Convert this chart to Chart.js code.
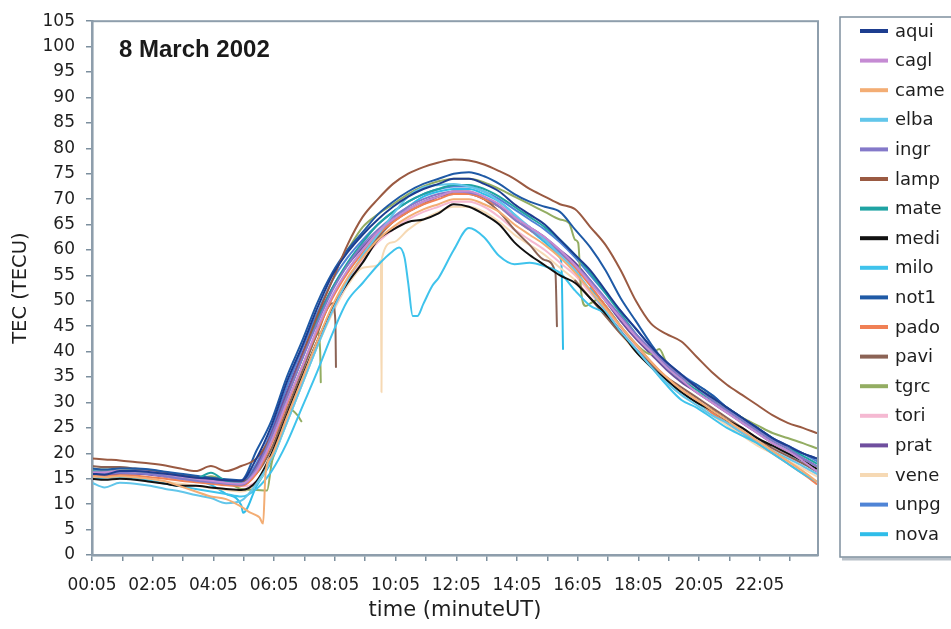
<!DOCTYPE html>
<html>
<head>
<meta charset="utf-8">
<script src="https://cdn.jsdelivr.net/npm/chart.js@4.4.1/dist/chart.umd.min.js"></script>
<style>
  html, body { margin: 0; padding: 0; background: #ffffff; }
  #wrap { width: 951px; height: 629px; }
</style>
</head>
<body>
<div id="wrap"><canvas id="c" width="951" height="629"></canvas></div>
<script>
// ---- Data (TEC in TECU, time in decimal hours UT) ----
const times = [0.083,0.5,1,1.5,2,2.5,3,3.5,4,4.5,5,5.5,
  6,6.5,7,7.5,8,8.5,9,9.5,10,10.5,11,11.5,
  12,12.5,13,13.5,14,14.5,15,15.5,16,16.5,17,17.5,
  18,18.5,19,19.5,20,20.5,21,21.5,22,22.5,23,23.5,23.95];

const aqui = [16,15.8,16.5,16.5,16.3,16,15.6,15.2,15,14.7,14.6,19,
  25.5,34,41,48.5,55,59.5,63,66,68.5,70.5,72,73,
  74,74,73,71.5,69,67,65,62,59,56,52,48,
  44.5,41,38,35.5,33,31,29,27,25,23,21.5,20,19];
const cagl = [16.3,16.3,16.6,16.5,16.3,15.9,15.4,15,14.6,14.2,14,16.5,
  22.5,30,37,44.5,51,56,60,63.5,66,68,69.5,70.5,
  71.5,71.5,70.5,69,66.5,64.5,62.5,60,57,53.5,50,46.5,
  43,40,37,34.5,32,30,28,26,24,22,20.5,18.5,16.5];
const came = [15.5,15.3,15.5,15.3,15,14.5,13.5,12.5,11.5,11,9.5,7.8,
  19.5,27,34.5,42,49,54.5,58.5,62,64.5,66.5,68,69,
  70,70,69,67.5,65,63,61,58.5,55.5,52,48.5,45,
  41.5,38,35,32.5,30.5,28.5,26.5,24.5,22.5,20.5,18.5,16.5,14.5];
const elba = [14.2,13.3,14.2,14,13.6,13,12.5,11.8,11.2,10.2,10.7,14,
  19,26,33.5,41,48,54,59,63,67,70.5,72.3,72.8,
  73,72.5,71.5,69.5,67,64.5,62,59,56,52,48,44,
  40.5,37,34,31.5,29.5,27.5,26,24,22.5,20.5,19,17.5,16];
const ingr = [16,16,16.2,16.1,15.9,15.5,15,14.6,14.3,14,13.8,17,
  23.5,31,38.5,45.5,52,57,61,64,66.5,68.5,70,71,
  71.5,71.3,70.5,68.5,66,64,62,59.5,57,54,50.5,47,
  43.5,40.5,37.5,35,33,30.5,28.5,26.5,24.5,22.5,21,19,17.5];
const lamp = [19,18.8,18.6,18.3,18,17.6,17,16.5,17.5,16.5,17.5,19,
  23.5,31,39,47,54,61,66.5,70,73,75,76.3,77.2,
  77.8,77.6,76.8,75.5,74,72,70.5,69,68,64.5,61,56,
  50,45.5,43.5,42,39,36,33.5,31.5,29.5,27.5,26,25,24];
const mate = [16.5,16.3,16.6,16.5,16.2,15.8,15.3,15,16.2,14.5,14,17,
  23,31,38.5,46,52.5,57.5,61.5,65,67.5,69.5,71,72,
  72.8,72.8,72,70.5,68.5,66.5,64.5,62,59,55.5,51.5,47.5,
  43.5,40,37,34.5,32.5,30.5,28.5,26.5,24.5,22.5,21,19.5,18];
const medi = [15,14.8,15,14.8,14.4,14,13.6,13.6,13.3,13,12.8,14.5,
  20,27.5,35,42,48.5,53.5,57.5,62,64,65.5,66,67.2,
  69,68.5,67,65,61.5,59,57,55,53.5,50.5,47.5,44,
  40,37,34.5,32,30,28.5,26.5,25,23,21.5,20,18.5,17];
const milo = [15,15.2,15.3,15,14.6,14,13.5,13,12.5,12,11.5,13,
  16.5,22,29,36,43.5,50,53.5,57,59.8,53.5,49.4,54.5,
  60,64.3,62.5,58.8,57.2,57.5,56.8,55.5,52,49,47.5,44,
  40.5,37,33.5,30.5,29,27,25,23.5,22,20,18,16,14.5];
const not1 = [17,16.8,17,17,16.8,16.4,16,15.6,15.2,14.9,14.7,20.5,
  26.5,35,42,49.5,55.5,60,63.5,67,69.5,71.5,73,74,
  75,75.3,74.5,73,71,69.5,68.5,67.5,64,60.5,56,50.5,
  46,41.5,37.5,35,33.5,31.5,29,27,25,23,21,20,19];
const pado = [15.5,15.5,15.7,15.6,15.3,15,14.6,14.3,14,13.7,13.6,16,
  22,29.5,37,44,50.5,55.5,59.5,63,65.5,67.5,69,70,
  71,71,70,68.5,66,64,62,59.5,56.5,53,49,45,
  41.5,38,35,32.5,30.5,28,26,24,22,20,18,16,14];
const pavi = [17.5,17.3,17.3,17,16.7,16.3,15.8,15.4,15,14.7,14.5,16,
  21,28.5,36,43.5,49.5,null,59,62.5,65.5,67.5,69,70.5,
  71.5,71.5,70,67.5,64,61,58,null,54,50.5,47,43.5,
  40.5,37.5,35,33,31,29,27,25,23,21,19.5,18,16.5];
const tgrc = [17,16.8,16.8,16.5,16.2,15.8,15.3,14.8,15.5,14.5,13,12.8,
  18,29,null,45,null,60,64.5,67,69,71,72.5,73.5,
  74,74,73.3,72,70.5,69,67.5,66,62,49.5,49,45,
  41.5,39.5,38,35,33,31,29,27,25.5,24,23,22,21];
const tori = [16.5,16.3,16.5,16.3,16,15.5,15,14.6,14.2,13.8,13.5,14.5,
  19.5,26.5,34,41.5,48,53.5,58,61.5,64,66,67.5,68.5,
  69.5,69.5,68.5,66.5,64,62,60,57.5,55,51.5,48,44.5,
  41,38,35,32.5,30.5,28.5,26.5,24.5,22.5,21,19.5,17.5,16];
const prat = [15.8,15.8,16,16,15.8,15.4,15,14.7,14.4,14,13.8,17.5,
  24,32,39.5,46.5,52.5,57,60.5,63.5,66,68,69.5,70.5,
  71,71,70,68.5,66.5,64.5,62.5,60,57.5,54,50,46,
  42.5,39.5,36.5,34,32,30,28,26,24,22,20.5,19,17.5];
const vene = [15,15,15.2,15,14.8,14.4,14,13.6,13.2,12.8,12.5,14,
  19,26,33.5,41,47.5,53,56.5,57,61.5,64,66,67.5,
  68.5,68.5,67.5,65.5,63,61,59,56.5,54,50.5,47,43.5,
  40,37,34,31.5,29.5,27.5,25.5,23.5,21.5,20,18.5,17,15.5];
const unpg = [16.5,16.5,16.8,16.7,16.5,16,15.5,15,14.7,14.4,14.3,18,
  24.5,33,40.5,47.5,54,58.5,62,65,67.5,69.5,71,72,
  72.5,72.5,71.5,70,68,66,64,61.5,58.5,55,51.5,48,
  44.5,41,38,35.5,33.5,31.5,29,27,25,23,21.5,20,18.5];
const nova = [16.5,16.5,16.8,16.6,16.2,15.8,15.2,14.6,13.8,12,9.8,13.5,
  18.5,26,33.5,41,48,54,58.5,62.5,66,68.5,70.5,71.5,
  72,72,71,69.5,67,64,61.5,58.5,null,52.5,49,45,
  41,37.5,34.5,32,30,28,26.5,24.5,22.5,21,19.5,18,16.5];

// Short excursions (drops / spikes) read at finer time resolution: [hour, TEC]
const cameExtra = [[5.25,8.5],[5.6,7.4],[5.72,6.2],[5.8,16]];
const miloExtra = [[10.2,60.5],[10.38,58.5],[10.65,47],[10.8,47],[11.3,53]];
const paviExtra = [[8.1,46],[8.12,37],[15.35,55.5],[15.4,45]];
const tgrcExtra = [[5.85,12.7],[6.85,27.5],[6.98,26.3],[7.6,40],[7.62,34],[15.8,65.3],[16.1,61.4],[16.2,51.6],[16.35,49],[16.8,50.3],[18.77,40.5]];
const veneExtra = [[9.6,58],[9.62,32],[9.64,58.5]];
const novaExtra = [[5.06,8.3],[15.55,57],[15.6,40.5]];

const stationNames = ['aqui','cagl','came','elba','ingr','lamp','mate','medi','milo','not1','pado','pavi','tgrc','tori','prat','vene','unpg','nova'];
const stationValues = [aqui,cagl,came,elba,ingr,lamp,mate,medi,milo,not1,pado,pavi,tgrc,tori,prat,vene,unpg,nova];
const stationExtras = [null,null,cameExtra,null,null,null,null,null,miloExtra,null,null,paviExtra,tgrcExtra,null,null,veneExtra,null,novaExtra];
const stationColors = ['#1d3d8f','#c58bd3','#f3ad74','#62c6ea','#8479c9','#9a5a42','#1fa3a3','#111111','#3fc3ec','#1f5aa6','#f08055','#8b6355','#93ad62','#f5b9d2','#6f4f9e','#f6d9b4','#4f84d6','#2fbde9'];

const yTickStep = 5;
const xTickHours = [0,1,2,3,4,5,6,7,8,9,10,11,12,13,14,15,16,17,18,19,20,21,22,23];

function buildPoints(vals, extra) {
  const pts = times.map((t, i) => ({ x: t, y: vals[i] }));
  if (extra) extra.forEach(([x, y]) => pts.push({ x: x, y: y }));
  pts.sort((a, b) => a.x - b.x);
  return pts;
}

const datasets = stationNames.map((name, i) => ({
  label: name,
  data: buildPoints(stationValues[i], stationExtras[i]),
  borderColor: stationColors[i],
  backgroundColor: stationColors[i],
  borderWidth: 2,
  pointRadius: 0,
  cubicInterpolationMode: 'monotone',
  spanGaps: false,
  fill: false
}));

const axisColor = '#7c8f9e';

const framePlugin = {
  id: 'frameAndText',
  afterDraw(chart) {
    const ctx = chart.ctx;
    const a = chart.chartArea;
    ctx.save();
    // plot frame
    ctx.strokeStyle = '#8e9eac';
    ctx.lineWidth = 2;
    ctx.strokeRect(a.left, a.top, a.right - a.left, a.bottom - a.top);
    // chart title inside plot
    ctx.fillStyle = '#1a1a1a';
    ctx.font = 'bold 24px "Liberation Sans", Arial, sans-serif';
    ctx.textBaseline = 'alphabetic';
    ctx.textAlign = 'left';
    ctx.fillText('8 March 2002', 119, 57);
    // legend box
    const lx = 840, ly = 17, lh = 540;
    ctx.strokeStyle = '#b8c0c8';
    ctx.lineWidth = 3;
    ctx.beginPath();
    ctx.moveTo(lx + 2, ly + lh + 2);
    ctx.lineTo(960, ly + lh + 2);
    ctx.stroke();
    ctx.strokeStyle = '#7f909e';
    ctx.lineWidth = 1.5;
    ctx.strokeRect(lx, ly, 130, lh);
    ctx.font = '18px "DejaVu Sans", sans-serif';
    ctx.textBaseline = 'middle';
    chart.data.datasets.forEach((ds, i) => {
      const y = 31 + i * 29.6;
      ctx.strokeStyle = ds.borderColor;
      ctx.lineWidth = 4;
      ctx.beginPath();
      ctx.moveTo(860, y);
      ctx.lineTo(888, y);
      ctx.stroke();
      ctx.fillStyle = '#1e1e1e';
      ctx.fillText(ds.label, 895, y + 1);
    });
    ctx.restore();
  }
};

new Chart(document.getElementById('c'), {
  type: 'line',
  data: { datasets: datasets },
  plugins: [framePlugin],
  options: {
    responsive: false,
    animation: false,
    devicePixelRatio: 1,
    layout: { padding: { left: 0, right: 133, top: 16, bottom: 0 } },
    plugins: { legend: { display: false }, title: { display: false }, tooltip: { enabled: false } },
    elements: { line: { borderCapStyle: 'round', borderJoinStyle: 'round' } },
    scales: {
      x: {
        type: 'linear',
        min: 5 / 60,
        max: 24,
        afterBuildTicks(scale) {
          scale.ticks = xTickHours.map(h => ({ value: h + 5 / 60 }));
        },
        afterFit(scale) { scale.height = 74; },
        ticks: {
          autoSkip: false,
          maxRotation: 0,
          padding: 14,
          color: '#1e1e1e',
          font: { family: '"DejaVu Sans", sans-serif', size: 17 },
          callback(value) {
            const h = Math.round(value - 5 / 60);
            return h % 2 === 0 ? String(h).padStart(2, '0') + ':05' : '';
          }
        },
        grid: { drawOnChartArea: false, drawTicks: true, tickLength: 6, color: axisColor, lineWidth: 1.5 },
        border: { display: true, color: axisColor, width: 2.5 },
        title: {
          display: true,
          text: 'time (minuteUT)',
          color: '#1e1e1e',
          font: { family: '"DejaVu Sans", sans-serif', size: 21 },
          padding: { top: 0, bottom: 6 }
        }
      },
      y: {
        min: 0,
        max: 105,
        afterFit(scale) { scale.width = 92; },
        ticks: {
          stepSize: yTickStep,
          autoSkip: false,
          padding: 11,
          color: '#1e1e1e',
          font: { family: '"DejaVu Sans", sans-serif', size: 17 }
        },
        grid: { drawOnChartArea: false, drawTicks: true, tickLength: 6, color: axisColor, lineWidth: 1.5 },
        border: { display: true, color: axisColor, width: 2.5 },
        title: {
          display: true,
          text: 'TEC (TECU)',
          color: '#1e1e1e',
          font: { family: '"DejaVu Sans", sans-serif', size: 19.5 },
          padding: { top: 9, bottom: 0 }
        }
      }
    }
  }
});
</script>
</body>
</html>
